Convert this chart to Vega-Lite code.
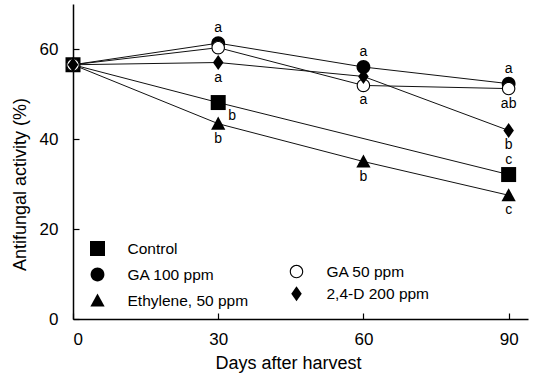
{
  "$schema": "https://vega.github.io/schema/vega-lite/v6.json",
  "width": 455,
  "height": 315,
  "autosize": "none",
  "padding": {"left": 73, "top": 4, "right": 8, "bottom": 56},
  "background": "white",
  "config": {
    "font": "Liberation Sans",
    "view": {"stroke": null},
    "axis": {"grid": false, "domainColor": "#000", "domainWidth": 1.5, "tickColor": "#000", "tickWidth": 1.2, "labelColor": "#000", "titleColor": "#000", "titleFontWeight": "normal"},
    "legend": {"padding": 0, "labelFontSize": 15.5, "labelColor": "#000", "symbolSize": 225, "rowPadding": 7, "labelOffset": 22, "symbolStrokeColor": "#000", "symbolStrokeWidth": 1}
  },
  "datasets": {
    "activity": [
      {"treatment": "Control", "day": 0, "activity": 56.5},
      {"treatment": "Control", "day": 30, "activity": 48.1},
      {"treatment": "Control", "day": 90, "activity": 32.1},
      {"treatment": "GA 100 ppm", "day": 0, "activity": 56.5},
      {"treatment": "GA 100 ppm", "day": 30, "activity": 61.3},
      {"treatment": "GA 100 ppm", "day": 60, "activity": 56.0},
      {"treatment": "GA 100 ppm", "day": 90, "activity": 52.3},
      {"treatment": "Ethylene, 50 ppm", "day": 0, "activity": 56.5},
      {"treatment": "Ethylene, 50 ppm", "day": 30, "activity": 43.4},
      {"treatment": "Ethylene, 50 ppm", "day": 60, "activity": 35.0},
      {"treatment": "Ethylene, 50 ppm", "day": 90, "activity": 27.5},
      {"treatment": "GA 50 ppm", "day": 0, "activity": 56.5},
      {"treatment": "GA 50 ppm", "day": 30, "activity": 60.3},
      {"treatment": "GA 50 ppm", "day": 60, "activity": 51.9},
      {"treatment": "GA 50 ppm", "day": 90, "activity": 51.2},
      {"treatment": "2,4-D 200 ppm", "day": 0, "activity": 56.5},
      {"treatment": "2,4-D 200 ppm", "day": 30, "activity": 57.0},
      {"treatment": "2,4-D 200 ppm", "day": 60, "activity": 53.9},
      {"treatment": "2,4-D 200 ppm", "day": 90, "activity": 41.9}
    ],
    "lettersAbove": [
      {"day": 30, "activity": 61.3, "letter": "a"},
      {"day": 60, "activity": 56.0, "letter": "a"},
      {"day": 90, "activity": 52.3, "letter": "a"},
      {"day": 90, "activity": 32.1, "letter": "c"}
    ],
    "lettersBelow": [
      {"day": 30, "activity": 57.0, "letter": "a"},
      {"day": 30, "activity": 43.4, "letter": "b"},
      {"day": 60, "activity": 51.9, "letter": "a"},
      {"day": 60, "activity": 35.0, "letter": "b"},
      {"day": 90, "activity": 51.2, "letter": "ab"},
      {"day": 90, "activity": 41.9, "letter": "b"},
      {"day": 90, "activity": 27.5, "letter": "c"}
    ],
    "lettersRight": [
      {"day": 30, "activity": 48.1, "letter": "b"}
    ]
  },
  "encoding": {
    "x": {
      "field": "day", "type": "quantitative",
      "scale": {"domain": [0, 94], "nice": false, "zero": false},
      "axis": {"values": [0, 30, 60, 90], "tickSize": -6, "labelPadding": 18, "labelFontSize": 17, "labelBaseline": "top", "title": "Days after harvest", "titleFontSize": 18, "titleX": 215, "titleY": 49, "titleBaseline": "alphabetic", "titleAlign": "center"}
    },
    "y": {
      "field": "activity", "type": "quantitative",
      "scale": {"domain": [0, 70], "nice": false},
      "axis": {"values": [0, 20, 40, 60], "tickSize": -6, "labelPadding": 21, "labelFontSize": 17, "title": "Antifungal activity (%)", "titleFontSize": 18, "titleAngle": -90, "titleX": -53, "titleY": 180, "titleBaseline": "middle", "titleAlign": "center"}
    }
  },
  "layer": [
    {
      "data": {"name": "activity"},
      "mark": {"type": "line", "color": "#111", "strokeWidth": 1},
      "encoding": {"detail": {"field": "treatment", "type": "nominal"}}
    },
    {
      "data": {"name": "activity"},
      "transform": [{"filter": {"field": "treatment", "oneOf": ["Control", "GA 100 ppm", "Ethylene, 50 ppm"]}}],
      "mark": {"type": "point", "filled": true, "color": "#000", "opacity": 1, "size": 225},
      "encoding": {
        "shape": {
          "field": "treatment", "type": "nominal",
          "scale": {"domain": ["Control", "GA 100 ppm", "Ethylene, 50 ppm"], "range": ["M-1,-1H1V1H-1Z", "M0,-0.92A0.92,0.92 0 1,1 0,0.92A0.92,0.92 0 1,1 0,-0.92Z", "M0,-0.95L0.95,0.8L-0.95,0.8Z"]},
          "legend": {"title": null, "orient": "none", "legendX": 16.5, "legendY": 236.5, "symbolFillColor": "#000"}
        }
      }
    },
    {
      "data": {"name": "activity"},
      "transform": [{"filter": {"field": "treatment", "equal": "GA 50 ppm"}}],
      "mark": {"type": "point", "filled": true, "color": "#fff", "opacity": 1, "size": 225, "shape": "M0,-0.85A0.85,0.85 0 1,1 0,0.85A0.85,0.85 0 1,1 0,-0.85Z"},
      "encoding": {}
    },
    {
      "data": {"name": "activity"},
      "transform": [{"filter": {"field": "treatment", "equal": "GA 50 ppm"}}],
      "mark": {"type": "point", "filled": true, "color": "#000", "opacity": 1, "size": 225},
      "encoding": {
        "shape": {
          "field": "treatment", "type": "nominal",
          "scale": {"domain": ["GA 50 ppm"], "range": ["M0,-0.9A0.9,0.9 0 1,1 0,0.9A0.9,0.9 0 1,1 0,-0.9Z M0,-0.75A0.75,0.75 0 1,0 0,0.75A0.75,0.75 0 1,0 0,-0.75Z"]},
          "legend": {"title": null, "orient": "none", "legendX": 215.5, "legendY": 259.5, "symbolFillColor": "#000"}
        }
      }
    },
    {
      "data": {"name": "activity"},
      "transform": [{"filter": {"field": "treatment", "equal": "2,4-D 200 ppm"}}],
      "mark": {"type": "point", "filled": true, "color": "#000", "opacity": 1, "size": 225},
      "encoding": {
        "shape": {
          "field": "treatment", "type": "nominal",
          "scale": {"domain": ["2,4-D 200 ppm"], "range": ["M0,-1L0.7,0L0,1L-0.7,0Z"]},
          "legend": {"title": null, "orient": "none", "legendX": 215.5, "legendY": 281.8, "symbolFillColor": "#000"}
        }
      }
    },
    {
      "data": {"name": "lettersAbove"},
      "mark": {"type": "text", "fontSize": 14, "color": "#000", "baseline": "middle", "dy": -14.8},
      "encoding": {"text": {"field": "letter"}}
    },
    {
      "data": {"name": "lettersBelow"},
      "mark": {"type": "text", "fontSize": 14, "color": "#000", "baseline": "middle", "dy": 15},
      "encoding": {"text": {"field": "letter"}}
    },
    {
      "data": {"name": "lettersRight"},
      "mark": {"type": "text", "fontSize": 14, "color": "#000", "baseline": "middle", "dx": 14, "dy": 13},
      "encoding": {"text": {"field": "letter"}}
    }
  ],
  "resolve": {"scale": {"shape": "independent"}, "legend": {"shape": "independent"}}
}
